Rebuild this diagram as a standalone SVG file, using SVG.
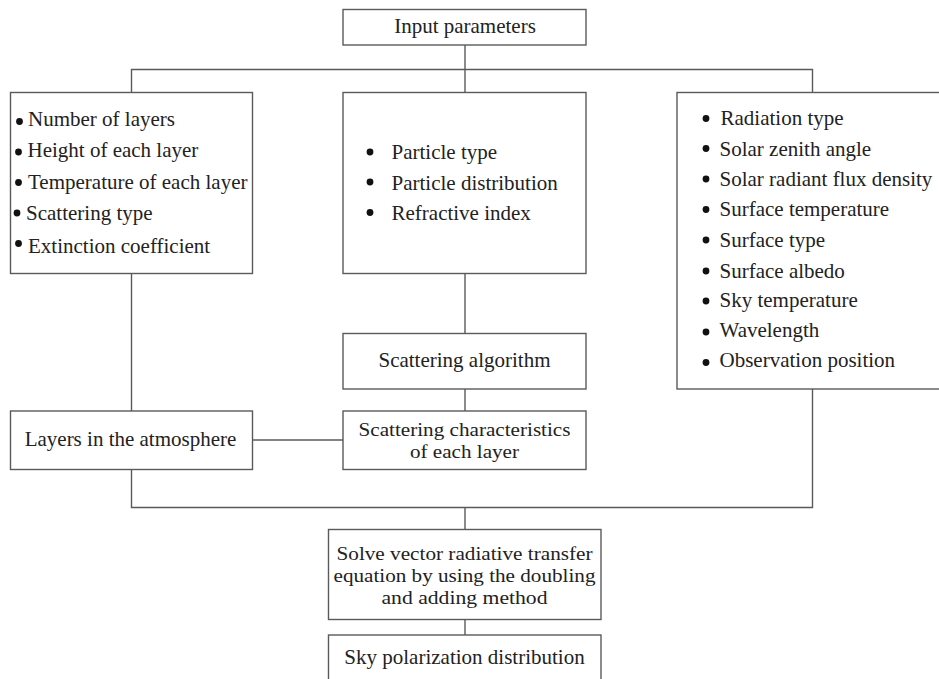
<svg xmlns="http://www.w3.org/2000/svg" width="939" height="679" viewBox="0 0 939 679">
<style>
.box{fill:#fff;stroke:#5a5a5a;stroke-width:1.4}
.ln{fill:none;stroke:#5a5a5a;stroke-width:1.4}
text{font-family:"Liberation Serif","Times New Roman",serif;font-size:21px;fill:#222}
.c{text-anchor:middle}
.m{font-size:19.4px}
.b{fill:#111}
</style>
<rect width="939" height="679" fill="#fff"/>
<g id="connectors">
<path class="ln" d="M465,45 V92"/>
<path class="ln" d="M131.5,92 V69.5 H812.5 V92"/>
<path class="ln" d="M131.5,273 V411"/>
<path class="ln" d="M465,273 V333"/>
<path class="ln" d="M465,389 V411"/>
<path class="ln" d="M252,440 H343"/>
<path class="ln" d="M131.5,470 V507.5 H812.5 V389"/>
<path class="ln" d="M465,507.5 V529"/>
<path class="ln" d="M465,619 V635"/>
</g>
<g id="input">
<rect class="box" x="343" y="9.5" width="243" height="35.5"/>
<text class="c" x="465" y="33">Input parameters</text>
</g>
<g id="layers-params">
<rect class="box" x="10.5" y="92.5" width="242" height="181"/>
<circle class="b" cx="19.5" cy="121.5" r="3.4"/>
<circle class="b" cx="18.5" cy="152" r="3.4"/>
<circle class="b" cx="18.5" cy="182.5" r="3.4"/>
<circle class="b" cx="17" cy="213" r="3.4"/>
<circle class="b" cx="18.5" cy="243.5" r="3.4"/>
<text x="28" y="126">Number of layers</text>
<text x="27.5" y="157">Height of each layer</text>
<text x="28" y="188.5">Temperature of each layer</text>
<text x="26" y="220">Scattering type</text>
<text x="28" y="253">Extinction coefficient</text>
</g>
<g id="particle-params">
<rect class="box" x="343" y="92.5" width="243" height="181"/>
<circle class="b" cx="370" cy="152" r="3.4"/>
<circle class="b" cx="370" cy="182" r="3.4"/>
<circle class="b" cx="370" cy="212.5" r="3.4"/>
<text x="391.5" y="159">Particle type</text>
<text x="391.5" y="190">Particle distribution</text>
<text x="391.5" y="220">Refractive index</text>
</g>
<g id="radiation-params">
<rect class="box" x="677" y="92.5" width="270" height="296.5"/>
<circle class="b" cx="706" cy="118.5" r="3.4"/>
<circle class="b" cx="706" cy="148.5" r="3.4"/>
<circle class="b" cx="706" cy="179" r="3.4"/>
<circle class="b" cx="706" cy="209.5" r="3.4"/>
<circle class="b" cx="706" cy="240" r="3.4"/>
<circle class="b" cx="706" cy="271" r="3.4"/>
<circle class="b" cx="706" cy="301" r="3.4"/>
<circle class="b" cx="706" cy="332" r="3.4"/>
<circle class="b" cx="706" cy="362.5" r="3.4"/>
<text x="720.5" y="125">Radiation type</text>
<text x="719.5" y="155.5">Solar zenith angle</text>
<text x="719.5" y="185.5">Solar radiant flux density</text>
<text x="719.5" y="216">Surface temperature</text>
<text x="719.5" y="246.5">Surface type</text>
<text x="719.5" y="277.5">Surface albedo</text>
<text x="719.5" y="306.5">Sky temperature</text>
<text x="719.5" y="337">Wavelength</text>
<text x="719.5" y="367">Observation position</text>
</g>
<g id="scattering-algorithm">
<rect class="box" x="343" y="333.5" width="243" height="55.5"/>
<text class="c" x="464.5" y="367">Scattering algorithm</text>
</g>
<g id="layers-atmosphere">
<rect class="box" x="10.5" y="411" width="242" height="58.5"/>
<text class="c" x="130.5" y="446">Layers in the atmosphere</text>
</g>
<g id="scattering-characteristics">
<rect class="box" x="343" y="411" width="243" height="58.5"/>
<text class="c m" x="464.5" y="435.5" textLength="212" lengthAdjust="spacingAndGlyphs">Scattering characteristics</text>
<text class="c m" x="464.5" y="457.5" textLength="109" lengthAdjust="spacingAndGlyphs">of each layer</text>
</g>
<g id="solve">
<rect class="box" x="328.5" y="529.5" width="272.5" height="90"/>
<text class="c m" x="464.5" y="559.5" textLength="256" lengthAdjust="spacingAndGlyphs">Solve vector radiative transfer</text>
<text class="c m" x="464.5" y="581.5" textLength="262" lengthAdjust="spacingAndGlyphs">equation by using the doubling</text>
<text class="c m" x="464.5" y="603.5" textLength="166" lengthAdjust="spacingAndGlyphs">and adding method</text>
</g>
<g id="sky">
<rect class="box" x="328.5" y="635" width="272.5" height="60"/>
<text class="c" x="464.5" y="664">Sky polarization distribution</text>
</g>
</svg>
